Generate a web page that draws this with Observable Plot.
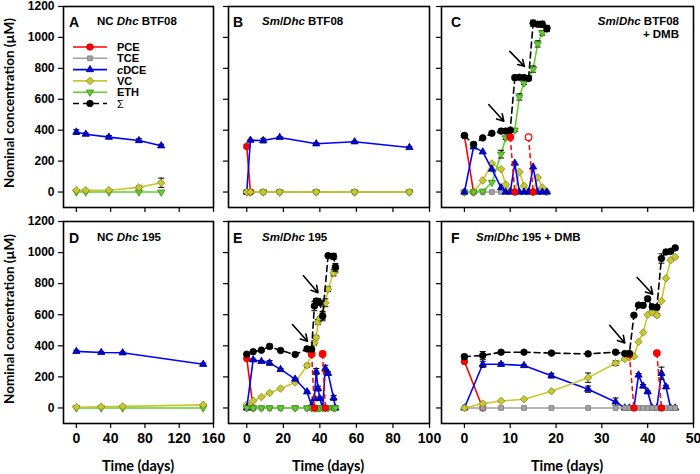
<!DOCTYPE html>
<html><head><meta charset="utf-8">
<script src="https://cdn.jsdelivr.net/npm/d3@7"></script>
<script src="https://cdn.jsdelivr.net/npm/@observablehq/plot@0.6"></script>
<style>
html,body{margin:0;padding:0;background:#fff;}
#root{position:relative;width:700px;height:474px;overflow:hidden;}
#root svg{position:absolute;}
</style></head><body><div id="root"></div>
<script>
// ================= DATA =================
// Panel A: NC Dhc BTF08
const A_days = [0, 11, 38, 73, 99];
const A_cDCE = [388, 374, 355, 333, 299];
const A_cDCE_err = [15, 8, 10, 12, 10];
const A_VC = [11, 11, 12, 30, 60];
const A_VC_err = [0, 0, 0, 8, 30];
const A_ETH = [0, 0, 0, 0, 0];

// Panel B: Sm/Dhc BTF08
const B_days = [0, 2, 9, 18, 38, 59, 89];
const B_cDCE = [0, 335, 333, 353, 312, 325, 288];
const B_cDCE_err = [0, 6, 15, 6, 6, 5, 5];
const B_TCE = [0, 0, 0, 0, 0, 0, 0];
const B_ETH = [0, 0, 0, 0, 0, 0, 0];
const B_VC = [0, 0, 0, 0, 0, 0, 0];
const B_PCE_days = [0, 2];
const B_PCE = [295, 0];
const B_PCE_err = [12, 0];

// Panel C: Sm/Dhc BTF08 + DMB
const C_days = [0, 2, 4, 6, 8, 9, 10, 11, 12, 13, 14, 15, 16, 17, 18];
const C_SUM = [365, 308, 350, 380, 394, 394, 400, 740, 742, 740, 735, 1092, 1085, 1085, 1058];
const C_SUM_err = [12, 8, 8, 8, 10, 10, 10, 15, 10, 10, 10, 20, 15, 20, 20];
const C_ETH = [0, 0, 5, 62, 245, 350, 390, 400, 615, 705, 740, 795, 958, 1030, 1055];
const C_ETH_err = [0, 0, 0, 0, 25, 10, 0, 10, 20, 10, 0, 20, 20, 15, 10];
const C_VC = [0, 0, 75, 185, 148, 48, 8, 0, 131, 40, 5, 0, 95, 30, 0];
const C_cDCE = [0, 292, 260, 148, 28, 0, 0, 187, 0, 0, 0, 162, 0, 0, 0];
const C_TCE_days = [0, 2, 4, 6, 8];
const C_TCE = [0, 0, 0, 0, 0];
const C_PCE_days = [0, 2];
const C_PCE = [365, 0];
const C_PCE_add_days = [10, 14];
const C_PCE_add = [355, 355];
const C_PCE_drop_days = [11, 15];
const C_PCE_add_open = [false, true];
const C_arrow_x1 = [5.3, 9.9], C_arrow_y1 = [566, 910], C_arrow_x2 = [8.6, 13.1], C_arrow_y2 = [458, 813];

// Panel D: NC Dhc 195
const D_days = [0, 29, 54, 148];
const D_cDCE = [364, 357, 355, 281];
const D_cDCE_err = [8, 5, 5, 8];
const D_VC = [5, 8, 10, 20];
const D_ETH = [0, 0, 0, 0];

// Panel E: Sm/Dhc 195
const E_days = [0, 3.5, 8, 12.5, 18.5, 26.5, 33, 35.5, 37, 38, 39, 40, 41.5, 43, 44.5, 47.5, 48.5];
const E_cDCE = [0, 310, 300, 290, 248, 186, 104, 15, 60, 234, 125, 61, 0, 255, 223, 65, 0];
const E_cDCE_err = [0, 5, 5, 15, 5, 5, 5, 0, 10, 20, 15, 10, 0, 20, 10, 15, 0];
const E_VC = [21, 45, 70, 97, 125, 164, 273, 348, 420, 455, 554, 575, 591, 677, 764, 870, 895];
const E_VC_err = [0, 0, 0, 0, 0, 0, 10, 0, 15, 10, 15, 10, 20, 25, 15, 20, 25];
const E_ETH = [0, 0, 0, 0, 0, 0, 0, 0, 0, 0, 0, 0, 0, 0, 0, 0, 0];
const E_TCE = [0, 0, 0, 0, 0, 0, 0, 0, 0, 0, 0, 0, 0, 0, 0, 0, 0];
const E_SUM_days = [0, 3.5, 8, 12.5, 18.5, 26.5, 33, 35.5, 37, 38, 39, 40, 41.5, 44.5, 47.5, 48.5];
const E_SUM = [346, 362, 372, 396, 370, 344, 380, 378, 656, 688, 686, 677, 591, 980, 975, 905];
const E_SUM_err = [5, 5, 8, 15, 5, 5, 8, 5, 30, 15, 15, 10, 30, 10, 20, 25];
const E_PCE_days = [0, 3.5];
const E_PCE = [318, 0];
const E_PCE_add_days = [35.5, 41.5];
const E_PCE_add = [348, 348];
const E_PCE_drop_days = [37, 43];
const E_arrow_x1 = [25, 31], E_arrow_y1 = [537, 851], E_arrow_x2 = [33.2, 39], E_arrow_y2 = [429, 742];

// Panel F: Sm/Dhc 195 + DMB
const F_days = [0, 4, 8, 13, 19, 27, 33, 35, 36, 37, 38, 39, 40, 41, 42, 43, 44, 45, 46];
const F_SUM = [330, 338, 359, 359, 353, 348, 359, 350, 350, 597, 662, 660, 703, 651, 648, 962, 1004, 1008, 1030];
const F_SUM_err = [15, 25, 8, 5, 8, 5, 8, 5, 5, 10, 10, 10, 10, 15, 15, 30, 15, 10, 10];
const F_cDCE = [0, 281, 281, 273, 208, 121, 39, 0, 0, 0, 212, 141, 104, 0, 0, 223, 136, 0, 0];
const F_cDCE_err = [0, 20, 10, 5, 15, 20, 25, 0, 0, 0, 10, 10, 5, 0, 0, 40, 10, 0, 0];
const F_VC = [0, 28, 45, 56, 108, 195, 288, 315, 325, 333, 425, 485, 600, 617, 597, 688, 835, 950, 972];
const F_VC_err = [0, 0, 0, 0, 0, 30, 15, 0, 0, 0, 0, 0, 0, 10, 10, 0, 0, 0, 0];
const F_TCE = [0, 0, 0, 0, 0, 0, 0, 0, 0, 0, 0, 0, 0, 0, 0, 0, 0, 0, 0];
const F_PCE_days = [0, 4];
const F_PCE = [299, 0];
const F_PCE_add_days = [36, 42];
const F_PCE_add = [346, 353];
const F_PCE_drop_days = [37, 43];
const F_arrow_x1 = [31.7, 37.7], F_arrow_y1 = [532, 840], F_arrow_x2 = [35, 41.1], F_arrow_y2 = [418, 732];

// Axis ticks
const Y_TICKS = [0, 200, 400, 600, 800, 1000, 1200];
const X_TICKS_AD = [0, 40, 80, 120, 160];
const X_TICKS_BE = [0, 20, 40, 60, 80, 100];
const X_TICKS_CF = [0, 10, 20, 30, 40, 50];

// ================= STYLES =================
const sqrt3 = Math.sqrt(3);
const triangleDown = {draw(ctx, size) {
  const y = -Math.sqrt(size / (sqrt3 * 3));
  ctx.moveTo(0, -y * 2); ctx.lineTo(-sqrt3 * y, y); ctx.lineTo(sqrt3 * y, y); ctx.closePath();
}};
const cap = {draw(ctx) { ctx.moveTo(-3, 0); ctx.lineTo(3, 0); }};
const STYLE = {
  PCE:  {line: "#ff0000", fill: "#ff0000", stroke: "#c00000", symbol: "circle", d3s: d3.symbolCircle, r: 3.3},
  TCE:  {line: "#a0a0a0", fill: "#a3a3a3", stroke: "#7a7a7a", symbol: "square", d3s: d3.symbolSquare, r: 2.7},
  cDCE: {line: "#0000ff", fill: "#0000dd", stroke: "#00007a", symbol: "triangle", d3s: d3.symbolTriangle, r: 2.7},
  VC:   {line: "#c8c832", fill: "#c8c832", stroke: "#85851c", symbol: "diamond2", d3s: d3.symbolDiamond2, r: 3.4},
  ETH:  {line: "#66cc33", fill: "#66cc33", stroke: "#3a8a14", symbol: triangleDown, d3s: triangleDown, r: 2.7},
  SUM:  {line: "#000000", fill: "#000000", stroke: "#000000", symbol: "circle", d3s: d3.symbolCircle, r: 3.3, dash: "6,4"}
};

const COLS = [
  {left: 0,   ml: 63, fw: 150, mr: 5, domain: [-15, 160], ticks: X_TICKS_AD, ylabels: true},
  {left: 218, ml: 10, fw: 201, mr: 5, domain: [-10, 100], ticks: X_TICKS_BE, ylabels: false},
  {left: 431, ml: 10, fw: 252, mr: 7, domain: [-5, 50],   ticks: X_TICKS_CF, ylabels: false}
];
const ROWS = [
  {top: 0,   mt: 6, fh: 201, mb: 12, xlabels: false},
  {top: 216, mt: 5, fh: 202, mb: 30, xlabels: true}
];

function rowsOf(days, vals, errs) {
  return days.map((d, i) => ({x: d, y: vals[i], e: errs ? errs[i] : 0}));
}

function seriesMarks(key, days, vals, errs) {
  const st = STYLE[key];
  const data = rowsOf(days, vals, errs);
  const ed = data.filter(d => d.e > 0);
  return [
    Plot.line(data, {x: "x", y: "y", stroke: st.line, strokeWidth: 1.6, strokeDasharray: st.dash}),
    Plot.ruleX(ed, {x: "x", y1: d => d.y - d.e, y2: d => d.y + d.e, stroke: "#000", strokeWidth: 1}),
    Plot.dot(ed, {x: "x", y: d => d.y - d.e, symbol: cap, stroke: "#000", strokeWidth: 1, fill: "none"}),
    Plot.dot(ed, {x: "x", y: d => d.y + d.e, symbol: cap, stroke: "#000", strokeWidth: 1, fill: "none"}),
    Plot.dot(data, {x: "x", y: "y", symbol: st.symbol, r: st.r, fill: st.fill, stroke: st.stroke, strokeWidth: 0.8})
  ];
}

function addMarks(days, vals, drops, open) {
  const rows = days.map((d, i) => ({x1: d, y1: vals[i], x2: drops[i], open: open ? open[i] : false}));
  return [
    Plot.link(rows, {x1: "x1", y1: "y1", x2: "x2", y2: 0, stroke: "#ff0000", strokeWidth: 1.5, strokeDasharray: "5,3"}),
    Plot.dot(rows, {x: "x2", y: 0, r: 3.3, fill: "#ff0000", stroke: "#c00000", strokeWidth: 0.8}),
    Plot.dot(rows, {x: "x1", y: "y1", r: 3.3, fill: d => d.open ? "#ffffff" : "#ff0000", stroke: "#ff0000", strokeWidth: 1.2})
  ];
}

function arrowMarks(x1, y1, x2, y2) {
  const rows = x1.map((d, i) => ({x1: d, y1: y1[i], x2: x2[i], y2: y2[i]}));
  return [Plot.arrow(rows, {x1: "x1", y1: "y1", x2: "x2", y2: "y2", stroke: "#000", strokeWidth: 1.6, headLength: 8})];
}

const PANELS = [
  {col: 0, row: 0, series: [["ETH", A_days, A_ETH], ["VC", A_days, A_VC, A_VC_err], ["cDCE", A_days, A_cDCE, A_cDCE_err]]},
  {col: 1, row: 0, series: [["TCE", B_days, B_TCE], ["ETH", B_days, B_ETH], ["PCE", B_PCE_days, B_PCE, B_PCE_err], ["cDCE", B_days, B_cDCE, B_cDCE_err], ["VC", B_days, B_VC]]},
  {col: 2, row: 0, series: [["PCE", C_PCE_days, C_PCE], ["TCE", C_TCE_days, C_TCE], ["VC", C_days, C_VC], ["ETH", C_days, C_ETH, C_ETH_err], ["cDCE", C_days, C_cDCE]],
    adds: [C_PCE_add_days, C_PCE_add, C_PCE_drop_days, C_PCE_add_open], sum: [C_days, C_SUM, C_SUM_err],
    arrows: [C_arrow_x1, C_arrow_y1, C_arrow_x2, C_arrow_y2]},
  {col: 0, row: 1, series: [["ETH", D_days, D_ETH], ["VC", D_days, D_VC], ["cDCE", D_days, D_cDCE, D_cDCE_err]]},
  {col: 1, row: 1, series: [["PCE", E_PCE_days, E_PCE], ["TCE", E_days, E_TCE], ["VC", E_days, E_VC, E_VC_err], ["cDCE", E_days, E_cDCE, E_cDCE_err], ["ETH", E_days, E_ETH]],
    adds: [E_PCE_add_days, E_PCE_add, E_PCE_drop_days], sum: [E_SUM_days, E_SUM, E_SUM_err],
    arrows: [E_arrow_x1, E_arrow_y1, E_arrow_x2, E_arrow_y2]},
  {col: 2, row: 1, series: [["PCE", F_PCE_days, F_PCE], ["cDCE", F_days, F_cDCE, F_cDCE_err], ["TCE", F_days, F_TCE], ["VC", F_days, F_VC, F_VC_err]],
    adds: [F_PCE_add_days, F_PCE_add, F_PCE_drop_days], sum: [F_days, F_SUM, F_SUM_err],
    arrows: [F_arrow_x1, F_arrow_y1, F_arrow_x2, F_arrow_y2]}
];

const root = document.getElementById("root");

for (const p of PANELS) {
  const c = COLS[p.col], r = ROWS[p.row];
  const marks = [];
  for (const [key, days, vals, errs] of p.series) marks.push(...seriesMarks(key, days, vals, errs));
  if (p.adds) marks.push(...addMarks(...p.adds));
  if (p.sum) marks.push(...seriesMarks("SUM", ...p.sum));
  if (p.arrows) marks.push(...arrowMarks(...p.arrows));
  marks.push(
    Plot.axisX({ticks: c.ticks, tickSize: 5, tickPadding: 5, fontSize: 14, label: null,
      tickFormat: r.xlabels ? d => String(d) : () => "", strokeWidth: 1.2}),
    Plot.axisY({ticks: Y_TICKS, tickSize: 5, tickPadding: 4, fontSize: 12, label: null,
      tickFormat: c.ylabels ? d => String(d) : () => "", strokeWidth: 1.2}),
    Plot.frame({stroke: "#000", strokeWidth: 1.6})
  );
  const svg = Plot.plot({
    width: c.ml + c.fw + c.mr, height: r.mt + r.fh + r.mb,
    marginLeft: c.ml, marginRight: c.mr, marginTop: r.mt, marginBottom: r.mb,
    x: {domain: c.domain}, y: {domain: [-100, 1200]},
    style: {background: "transparent", fontFamily: "'Liberation Sans', Arial, sans-serif", fontWeight: "bold", color: "#000", overflow: "visible"},
    marks
  });
  svg.style.left = c.left + "px";
  svg.style.top = r.top + "px";
  root.appendChild(svg);
}

// ================= TEXT OVERLAY =================
const ov = d3.select(root).append("svg").attr("width", 700).attr("height", 474)
  .style("left", "0px").style("top", "0px").style("pointer-events", "none")
  .attr("font-family", "'Liberation Sans', Arial, sans-serif").attr("font-weight", "bold");

function rich(x, y, parts, size, anchor) {
  const t = ov.append("text").attr("x", x).attr("y", y).attr("font-size", size).attr("text-anchor", anchor || "start");
  for (const [s, it] of parts) t.append("tspan").attr("font-style", it ? "italic" : "normal").text(s);
  return t;
}
// panel letters
const LETTERS = [["A", 69, 27], ["B", 233, 27], ["C", 451, 27], ["D", 69, 243], ["E", 233, 243], ["F", 451, 243]];
for (const [s, x, y] of LETTERS) rich(x, y, [[s, false]], 14);
// panel titles
rich(97, 24.5, [["NC ", false], ["Dhc", true], [" BTF08", false]], 11.5);
rich(262, 24.5, [["Sm", true], ["/", false], ["Dhc", true], [" BTF08", false]], 11.5);
rich(679, 24.5, [["Sm", true], ["/", false], ["Dhc", true], [" BTF08", false]], 11.5, "end");
rich(679, 37.5, [["+ DMB", false]], 11.5, "end");
rich(97, 240.5, [["NC ", false], ["Dhc", true], [" 195", false]], 11.5);
rich(262, 240.5, [["Sm", true], ["/", false], ["Dhc", true], [" 195", false]], 11.5);
rich(476, 240.5, [["Sm", true], ["/", false], ["Dhc", true], [" 195 + DMB", false]], 11.5);

// axis titles
for (const cy of [103, 319]) {
  ov.append("text").attr("transform", `translate(13.5,${cy}) rotate(-90)`).attr("text-anchor", "middle")
    .attr("font-family", "Lato, 'Liberation Sans', sans-serif").attr("font-size", 13.5).text("Nominal concentration (µM)");
}
for (const cx of [138, 328, 567]) {
  ov.append("text").attr("x", cx).attr("y", 471).attr("text-anchor", "middle")
    .attr("font-family", "Lato, 'Liberation Sans', sans-serif").attr("font-size", 14.5).text("Time (days)");
}

// legend (panel A)
const LEG_KEYS = ["PCE", "TCE", "cDCE", "VC", "ETH", "SUM"];
const LEG_LABELS = [[["PCE", false]], [["TCE", false]], [["c", true], ["DCE", false]], [["VC", false]], [["ETH", false]], [["Σ", false]]];
LEG_KEYS.forEach((k, i) => {
  const st = STYLE[k];
  const y = 47 + i * 11.3;
  ov.append("line").attr("x1", 73).attr("x2", 107).attr("y1", y).attr("y2", y)
    .attr("stroke", st.line).attr("stroke-width", 1.6).attr("stroke-dasharray", st.dash || null);
  ov.append("path").attr("transform", `translate(90,${y})`)
    .attr("d", d3.symbol(st.d3s, Math.PI * st.r * st.r)())
    .attr("fill", st.fill).attr("stroke", st.stroke).attr("stroke-width", 0.8);
  const t = rich(117, y + 4, LEG_LABELS[i], 11);
  if (k === "SUM") t.attr("font-weight", "normal");
});
</script></body></html>
